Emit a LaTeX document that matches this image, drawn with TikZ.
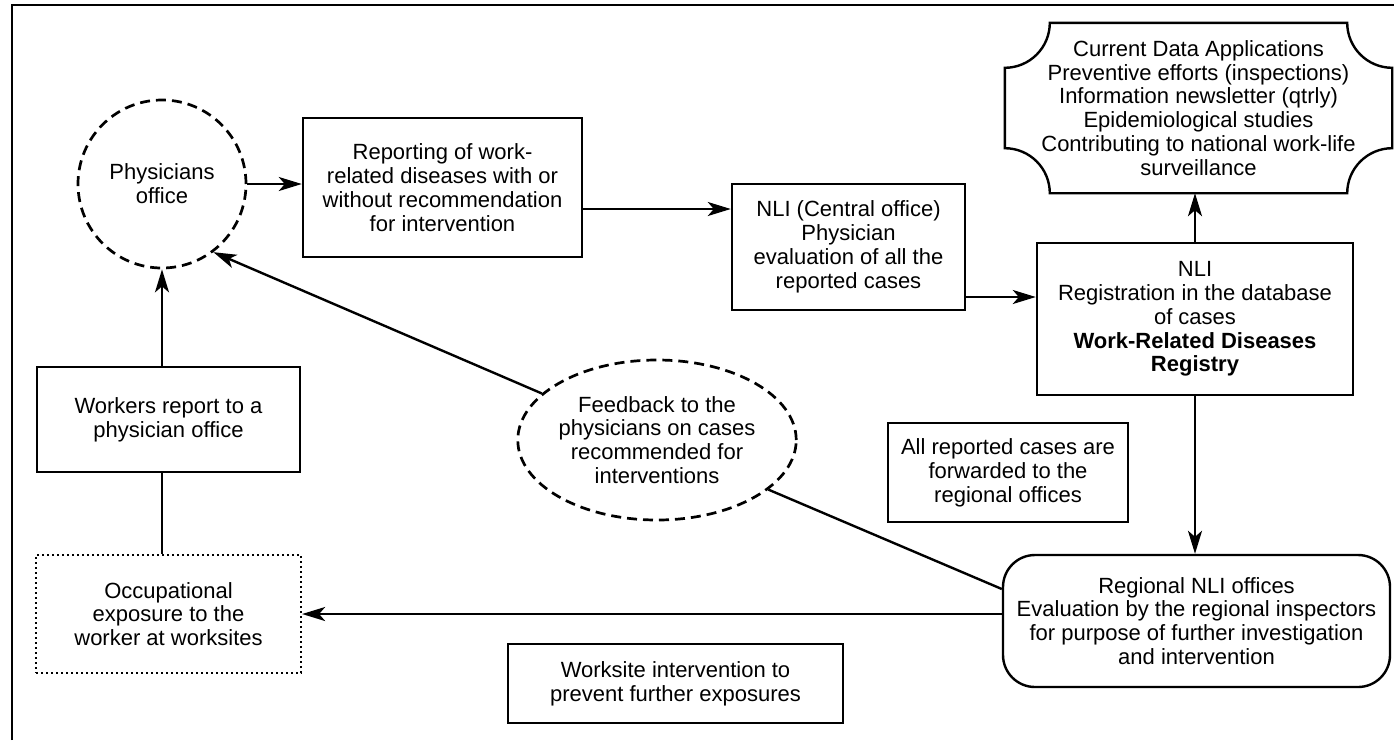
\documentclass[tikz,border=0pt]{standalone}
\usepackage{fontspec}
\setmainfont{Liberation Sans}
\usetikzlibrary{arrows.meta,shapes.geometric}
\tikzset{
  x=1pt,y=-1pt,
  every node/.style={font=\fontsize{22}{23.8}\selectfont, align=center, inner sep=0pt},
  boxnode/.style={draw, rectangle, line width=2.4pt},
  dashnode/.style={draw, line width=2.7pt, dash pattern=on 10pt off 6pt},
  dotnode/.style={draw, rectangle, line width=2.2pt, dash pattern=on 2pt off 3pt},
  roundnode/.style={draw, rectangle, rounded corners=32pt, line width=2.4pt},
  arr/.style={line width=2.4pt, -{Stealth[length=23pt,width=14pt,inset=6pt]}},
  conn/.style={line width=2.4pt},
}
\begin{document}
\begin{tikzpicture}
\useasboundingbox (0,0) rectangle (1394,740);
% frame
\coordinate (fr1) at (12,740);
\coordinate (fr2) at (12,5);
\coordinate (fr3) at (1394,5);
\draw[line width=2.6pt] (fr1) -- (fr2) -- (fr3);

\node[dashnode, circle, minimum size=168pt] (phys) at (162,184) {Physicians\\office};
\node[boxnode, minimum width=279pt, minimum height=139pt] (rep) at (442.5,187.5)
  {Reporting of work-\\related diseases with or\\without recommendation\\for intervention};
\node[boxnode, minimum width=233pt, minimum height=126pt] (nlic) at (848.5,247)
  {NLI (Central office)\\Physician\\evaluation of all the\\reported cases};
\node[boxnode, minimum width=316pt, minimum height=152pt] (reg) at (1195,319)
  {NLI\\Registration in the database\\of cases\\\textbf{Work-Related Diseases}\\\textbf{Registry}};
\node[minimum width=387pt, minimum height=170pt] (cur) at (1198.5,108)
  {Current Data Applications\\Preventive efforts (inspections)\\Information newsletter (qtrly)\\Epidemiological studies\\Contributing to national work-life\\surveillance};
\def\rr{45}
\draw[line width=2.4pt]
  ([xshift=\rr pt]cur.north west) -- ([xshift=-\rr pt]cur.north east)
  .. controls ([xshift=-\rr pt,yshift=-0.552*\rr pt]cur.north east) and ([xshift=-0.552*\rr pt,yshift=-\rr pt]cur.north east) .. ([yshift=-\rr pt]cur.north east)
  -- ([yshift=\rr pt]cur.south east)
  .. controls ([xshift=-0.552*\rr pt,yshift=\rr pt]cur.south east) and ([xshift=-\rr pt,yshift=0.552*\rr pt]cur.south east) .. ([xshift=-\rr pt]cur.south east)
  -- ([xshift=\rr pt]cur.south west)
  .. controls ([xshift=\rr pt,yshift=0.552*\rr pt]cur.south west) and ([xshift=0.552*\rr pt,yshift=\rr pt]cur.south west) .. ([yshift=\rr pt]cur.south west)
  -- ([yshift=-\rr pt]cur.north west)
  .. controls ([xshift=0.552*\rr pt,yshift=-\rr pt]cur.north west) and ([xshift=\rr pt,yshift=-0.552*\rr pt]cur.north west) .. ([xshift=\rr pt]cur.north west)
  -- cycle;
\node[boxnode, minimum width=240pt, minimum height=99pt] (all) at (1008,472.5)
  {All reported cases are\\forwarded to the\\regional offices};
\node[dashnode, ellipse, minimum width=246pt, minimum height=160pt] (fb) at (657,440)
  {Feedback to the\\physicians on cases\\recommended for\\interventions};
\node[boxnode, minimum width=263pt, minimum height=105pt] (workers) at (168.5,419.5)
  {Workers report to a\\physician office};
\node[dotnode, minimum width=265pt, minimum height=118pt] (occ) at (168.5,614)
  {Occupational\\exposure to the\\worker at worksites};
\node[roundnode, minimum width=387pt, minimum height=132pt] (regional) at (1196.5,621)
  {Regional NLI offices\\Evaluation by the regional inspectors\\for purpose of further investigation\\and intervention};
\node[boxnode, minimum width=335pt, minimum height=79pt] (work) at (675.5,683.5)
  {Worksite intervention to\\prevent further exposures};

% connectors
\draw[arr] (phys.east) -- (phys.east -| rep.west);
\draw[arr] (rep.east |- 0,209) -- (nlic.west |- 0,209);
\draw[arr] (nlic.east |- 0,297) -- (reg.west |- 0,297);
\draw[arr] (reg.north) -- (reg.north |- cur.south);
\draw[arr] (reg.south) -- (reg.south |- regional.north);
\draw[arr] (regional.west |- occ.east) -- (occ.east);
\draw[conn] ([yshift=32pt]regional.west) -- (fb.-24);
\draw[arr] (fb.158) -- (phys.-53);
\draw[conn] (occ.north -| phys.south) -- (workers.south -| phys.south);
\draw[arr] (workers.north -| phys.south) -- (phys.south);
\end{tikzpicture}
\end{document}
